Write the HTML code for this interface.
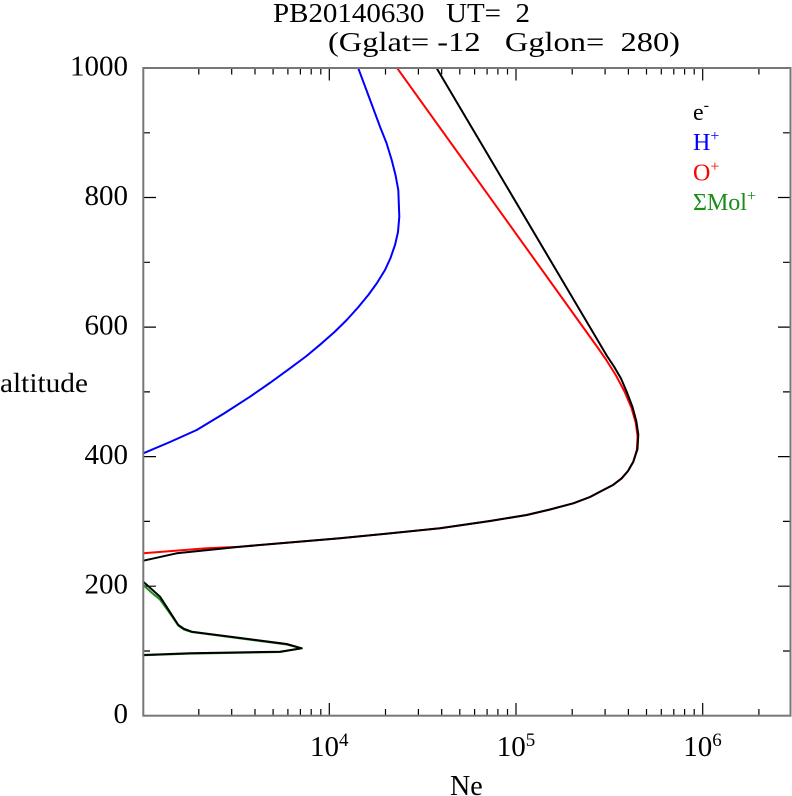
<!DOCTYPE html>
<html><head><meta charset="utf-8"><style>
html,body{margin:0;padding:0;background:#fff;}
svg{display:block;}
text{font-family:"Liberation Serif",serif;fill:#000;}
</style></head><body>
<svg width="792" height="796" viewBox="0 0 792 796" xmlns="http://www.w3.org/2000/svg">
<rect width="792" height="796" fill="#fff"/>
<!-- title -->
<text x="273" y="22" font-size="27" textLength="257" lengthAdjust="spacingAndGlyphs" style="white-space:pre">PB20140630   UT=  2</text>
<text x="328" y="51" font-size="27" textLength="352" lengthAdjust="spacingAndGlyphs" style="white-space:pre">(Gglat= -12   Gglon=  280)</text>

<!-- ticks -->
<g stroke="#000" stroke-width="1.2" fill="none">
<path d="M143.3 68H156M143.3 197.5H156M143.3 327.1H156M143.3 456.6H156M143.3 586.2H156
M143.3 132.8H150M143.3 262.3H150M143.3 391.9H150M143.3 521.4H150M143.3 651H150
M790.5 68H778M790.5 197.5H778M790.5 327.1H778M790.5 456.6H778M790.5 586.2H778
M790.5 132.8H783M790.5 262.3H783M790.5 391.9H783M790.5 521.4H783M790.5 651H783"/>
<path d="M329.3 715.7V703M516 715.7V703M702.7 715.7V703M329.3 68V80.5M516 68V80.5M702.7 68V80.5"/>
<path d="
M198.8 715.7V709M231.7 715.7V709M255 715.7V709M273.1 715.7V709M287.9 715.7V709M300.4 715.7V709M311.2 715.7V709M320.8 715.7V709
M385.5 715.7V709M418.4 715.7V709M441.7 715.7V709M459.8 715.7V709M474.6 715.7V709M487.1 715.7V709M497.9 715.7V709M507.5 715.7V709
M572.2 715.7V709M605.1 715.7V709M628.4 715.7V709M646.5 715.7V709M661.3 715.7V709M673.8 715.7V709M684.6 715.7V709M694.2 715.7V709
M758.9 715.7V709
M198.8 68V74.5M231.7 68V74.5M255 68V74.5M273.1 68V74.5M287.9 68V74.5M300.4 68V74.5M311.2 68V74.5M320.8 68V74.5
M385.5 68V74.5M418.4 68V74.5M441.7 68V74.5M459.8 68V74.5M474.6 68V74.5M487.1 68V74.5M497.9 68V74.5M507.5 68V74.5
M572.2 68V74.5M605.1 68V74.5M628.4 68V74.5M646.5 68V74.5M661.3 68V74.5M673.8 68V74.5M684.6 68V74.5M694.2 68V74.5
M758.9 68V74.5"/>
</g>

<!-- curves -->
<g fill="none" stroke-width="2" stroke-linejoin="round" stroke-linecap="round">
<polyline stroke="#1a8c1a" points="143.3,585 152,593 160,599.5 169,612 178.3,625.5 184,629.5 191.7,632 286.7,644.5 301.7,648.3 280,652 190,653.6 143.3,655.3"/>
<polyline stroke="#0000ff" points="358.3,68.3 369,97 380,126.7 386.5,143 391.7,160 395.5,175 398.3,190 399.3,216.7 398,232 395,245 390.5,258 385,270 377,283 368.3,295 358,307.5 346.7,320 334.5,332 321.7,343.3 306.5,356 290,368.3 270.5,382.5 250,396.7 224,413.5 196.7,430 170,442 143.3,453.3"/>
<polyline stroke="#ff0000" points="397.3,68.3 598,348 606,359.5 616,375.5 624.5,391.5 631.5,408 635.8,423 637.6,436.7 636.8,450 633.3,461.7 628,471 621.7,478.3 613,485 603.3,490 590,497 573.3,503.3 550,509.5 526.7,515 490,521 440,528.3 340,538.3 240,546.7 206.7,548.3 143.3,553.3"/>
<polyline stroke="#000" points="436.7,68.3 607,356 614,366.5 621,378.5 627,392.5 632.5,407 636.3,421 638.3,434.5 637.5,449 633.3,461.7 628,471 621.7,478.3 613,485 603.3,490 590,497 573.3,503.3 550,509.5 526.7,515 490,521 440,528.3 340,538.3 240,546.7 176.7,553.3 143.3,560.7"/>
<polyline stroke="#000" points="143.3,581.7 152,589.5 160,596.7 169,610.5 178.3,625 184,628.8 191.7,631.7 286.7,644 301.7,648.3 280,651.7 190,653.3 143.3,655"/>
</g>

<!-- frame -->
<rect x="143.3" y="68" width="647.2" height="647.7" fill="none" stroke="#777" stroke-width="2"/>

<!-- y labels -->
<g font-size="29" text-anchor="end">
<text x="128" y="75.5">1000</text>
<text x="128" y="205">800</text>
<text x="128" y="334.6">600</text>
<text x="128" y="464">400</text>
<text x="128" y="593.7">200</text>
<text x="128" y="723">0</text>
</g>
<text x="0" y="392" font-size="27" textLength="88" lengthAdjust="spacingAndGlyphs">altitude</text>

<!-- x labels -->
<g font-size="29">
<text x="310" y="756">10<tspan font-size="19" dy="-10">4</tspan></text>
<text x="496.7" y="756">10<tspan font-size="19" dy="-10">5</tspan></text>
<text x="683.3" y="756">10<tspan font-size="19" dy="-10">6</tspan></text>
</g>
<text x="450" y="795" font-size="28">Ne</text>

<!-- legend -->
<g font-size="24">
<text x="693" y="120" style="fill:#000">e<tspan font-size="16" dy="-10">-</tspan></text>
<text x="693" y="150" style="fill:#0000ff">H<tspan font-size="16" dy="-9">+</tspan></text>
<text x="693" y="180.5" style="fill:#ff0000">O<tspan font-size="16" dy="-9">+</tspan></text>
<text x="693" y="210" style="fill:#1a8c1a">ΣMol<tspan font-size="16" dy="-9">+</tspan></text>
</g>
</svg>
</body></html>
